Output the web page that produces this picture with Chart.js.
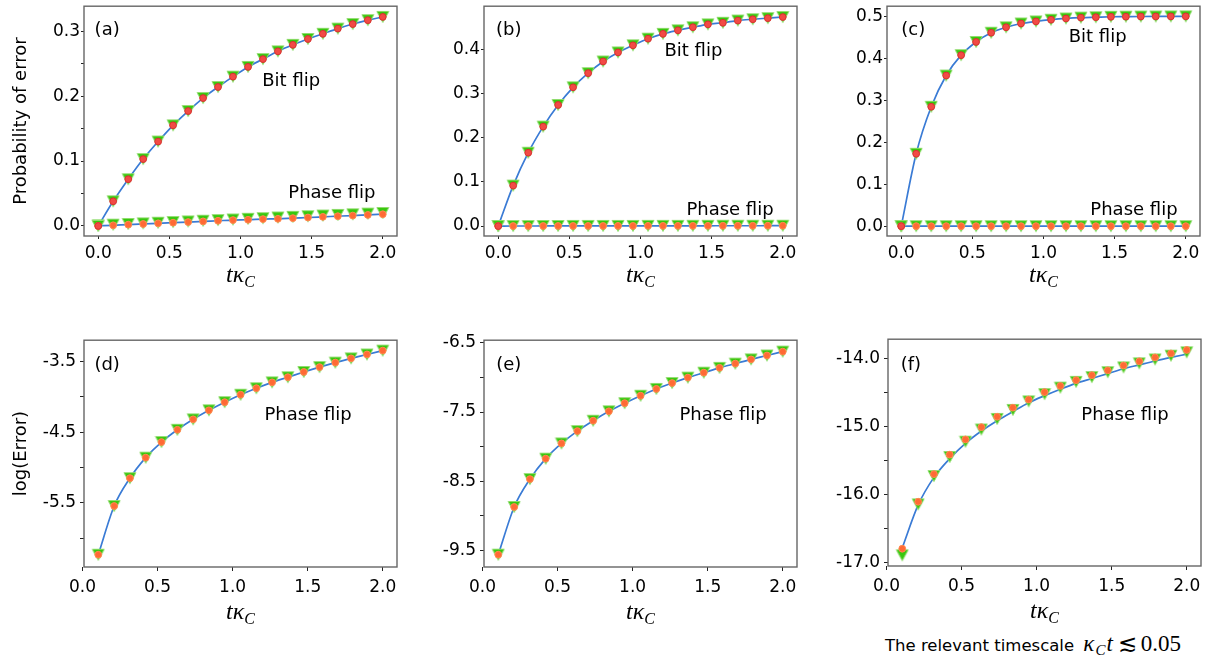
<!DOCTYPE html>
<html>
<head>
<meta charset="utf-8">
<script src="https://cdn.jsdelivr.net/npm/chart.js@4.4.1/dist/chart.umd.min.js"></script>
<style>
  html, body { margin: 0; padding: 0; background: #fff; }
  body { width: 1213px; height: 664px; position: relative; overflow: hidden; }
  canvas { position: absolute; }
  #note { position: absolute; left: 885px; top: 634px; font: 16.5px "DejaVu Sans", sans-serif; color: #000; white-space: nowrap; line-height: 20px; }
  #note .m { font-family: "Liberation Serif", serif; font-size: 23px; margin-left: 4px; }
  #note .m i { margin-right: 1px; }
  #note .rel { margin: 0 4px; }
  #note sub { font-size: 15px; vertical-align: -4px; }
</style>
</head>
<body>
<canvas id="pa"></canvas>
<canvas id="pb"></canvas>
<canvas id="pc"></canvas>
<canvas id="pd"></canvas>
<canvas id="pe"></canvas>
<canvas id="pf"></canvas>
<div id="note">The relevant timescale <span class="m"><i>κ</i><sub><i>C</i></sub><i>t</i><span class="rel">≲</span>0.05</span></div>
<script>
// time grid (t kappa_C)
const tFull = [0, 0.105, 0.211, 0.316, 0.421, 0.526, 0.632, 0.737, 0.842, 0.947,
               1.053, 1.158, 1.263, 1.368, 1.474, 1.579, 1.684, 1.789, 1.895, 2.0];
const tLog = [0.105, 0.211, 0.316, 0.421, 0.526, 0.632, 0.737, 0.842, 0.947,
              1.053, 1.158, 1.263, 1.368, 1.474, 1.579, 1.684, 1.789, 1.895, 2.0];

// probability of error
const bitA = [0, 0.038, 0.072, 0.103, 0.130, 0.155, 0.177, 0.197, 0.214, 0.230,
              0.245, 0.257, 0.269, 0.279, 0.288, 0.296, 0.304, 0.311, 0.317, 0.322];
const phaseA = [0, 0.001, 0.002, 0.003, 0.004, 0.005, 0.006, 0.007, 0.008, 0.009,
                0.0095, 0.0105, 0.011, 0.012, 0.013, 0.014, 0.015, 0.016, 0.017, 0.018];
const phaseATri = [0.001, 0.002, 0.003, 0.004, 0.005, 0.006, 0.007, 0.008, 0.009, 0.010,
                   0.011, 0.012, 0.013, 0.014, 0.015, 0.016, 0.017, 0.018, 0.019, 0.020];
const bitB = [0, 0.0915, 0.166, 0.225, 0.274, 0.314, 0.346, 0.3725, 0.393, 0.409,
              0.424, 0.435, 0.443, 0.450, 0.4565, 0.460, 0.465, 0.468, 0.4705, 0.473];
const phaseB = [0, 0.0001, 0.0001, 0.0002, 0.0002, 0.0003, 0.0003, 0.0003, 0.0004, 0.0004,
                0.0005, 0.0005, 0.0005, 0.0006, 0.0006, 0.0007, 0.0007, 0.0007, 0.0008, 0.0008];
const bitC = [0, 0.1725, 0.2845, 0.359, 0.4075, 0.439, 0.461, 0.474, 0.483, 0.488,
              0.492, 0.495, 0.497, 0.498, 0.499, 0.4993, 0.4996, 0.4998, 0.4999, 0.5];
const phaseC = [0, 0, 0, 0, 0, 0, 0, 0, 0, 0, 0, 0, 0, 0, 0, 0, 0, 0, 0, 0];

// log(Error), phase flip
const logD = [-6.236, -5.546, -5.151, -4.861, -4.640, -4.466, -4.318, -4.190, -4.075, -3.969,
              -3.877, -3.794, -3.721, -3.647, -3.578, -3.514, -3.454, -3.399, -3.344];
const logE = [-9.561, -8.872, -8.469, -8.174, -7.953, -7.775, -7.625, -7.489, -7.372, -7.264,
              -7.166, -7.081, -7.002, -6.931, -6.861, -6.800, -6.739, -6.683, -6.627];
const logF = [-16.799, -16.108, -15.702, -15.416, -15.192, -15.011, -14.858, -14.725, -14.606, -14.496,
              -14.405, -14.320, -14.248, -14.176, -14.105, -14.043, -13.986, -13.928, -13.876];
const logFTri = [-16.895, -16.146, -15.73, -15.45, -15.225, -15.045, -14.89, -14.758, -14.632, -14.525,
                 -14.43, -14.345, -14.275, -14.203, -14.132, -14.072, -14.015, -13.96, -13.91];
const logFLine = [-16.785, -16.155, -15.750, -15.474, -15.249, -15.068, -14.916, -14.782, -14.653, -14.548,
                  -14.453, -14.367, -14.296, -14.224, -14.153, -14.095, -14.038, -13.986, -13.938];

const xTicks = [0, 0.5, 1.0, 1.5, 2.0];

const RED = ['#f24a45', '#d83030'];
const ORANGE = ['#ff6a35', '#ff8a50'];
const BLUE = '#3a7bd5';

function makeTriangle() {
  const c = document.createElement('canvas');
  c.width = 14; c.height = 14;
  const g = c.getContext('2d');
  g.beginPath();
  g.moveTo(1, 1.5); g.lineTo(13, 1.5); g.lineTo(7, 12.5);
  g.closePath();
  g.fillStyle = '#38c70e';
  g.fill();
  g.strokeStyle = '#8fdc6c';
  g.lineWidth = 1;
  g.stroke();
  return c;
}
const triangle = makeTriangle();

function pts(xs, ys) {
  return xs.map((x, i) => ({ x: x, y: ys[i] }));
}

const panels = [
  { id: 'pa', frame: [84, 3, 397, 236], top: true, x: tFull, xMin: -0.1, xMax: 2.1,
    yMin: -0.0155, yMax: 0.3385, yTicks: [0, 0.05, 0.1, 0.15, 0.2, 0.25, 0.3], yLabels: [0, 0.1, 0.2, 0.3],
    yTitle: 'Probability of error',
    series: [{ c: bitA, t: bitA, l: bitA, col: RED }, { c: phaseA, t: phaseATri, l: phaseA, col: ORANGE }],
    notes: [['(a)', 0.074, 0.124], ['Bit flip', 0.662, 0.348], ['Phase flip', 0.792, 0.834]] },
  { id: 'pb', frame: [484, 3, 797, 236], top: true, x: tFull, xMin: -0.1, xMax: 2.1,
    yMin: -0.0225, yMax: 0.4975, yTicks: [0, 0.1, 0.2, 0.3, 0.4], yLabels: [0, 0.1, 0.2, 0.3, 0.4],
    series: [{ c: bitB, t: bitB, l: bitB, col: RED }, { c: phaseB, t: phaseB, l: phaseB, col: ORANGE }],
    notes: [['(b)', 0.079, 0.124], ['Bit flip', 0.669, 0.216], ['Phase flip', 0.786, 0.910]] },
  { id: 'pc', frame: [887, 3, 1200, 236], top: true, x: tFull, xMin: -0.1, xMax: 2.1,
    yMin: -0.0235, yMax: 0.5242, yTicks: [0, 0.1, 0.2, 0.3, 0.4, 0.5], yLabels: [0, 0.1, 0.2, 0.3, 0.4, 0.5],
    series: [{ c: bitC, t: bitC, l: bitC, col: RED }, { c: phaseC, t: phaseC, l: phaseC, col: ORANGE }],
    notes: [['(c)', 0.084, 0.124], ['Bit flip', 0.673, 0.156], ['Phase flip', 0.789, 0.910]] },
  { id: 'pd', frame: [84, 334, 397, 567], top: false, x: tLog, xMin: 0.01, xMax: 2.095,
    yMin: -6.41, yMax: -3.197, yTicks: [-6.0, -5.5, -5.0, -4.5, -4.0, -3.5], yLabels: [-5.5, -4.5, -3.5],
    yTitle: 'log(Error)',
    series: [{ c: logD, t: logD, l: logD, col: ORANGE }],
    notes: [['(d)', 0.074, 0.133], ['Phase flip', 0.716, 0.352]] },
  { id: 'pe', frame: [484, 334, 797, 567], top: false, x: tLog, xMin: 0.01, xMax: 2.095,
    yMin: -9.739, yMax: -6.462, yTicks: [-9.5, -9.0, -8.5, -8.0, -7.5, -7.0, -6.5], yLabels: [-9.5, -8.5, -7.5, -6.5],
    series: [{ c: logE, t: logE, l: logE, col: ORANGE }],
    notes: [['(e)', 0.079, 0.133], ['Phase flip', 0.764, 0.352]] },
  { id: 'pf', frame: [888, 333, 1201, 566], top: false, x: tLog, xMin: 0.01, xMax: 2.095,
    yMin: -17.053, yMax: -13.718, yTicks: [-17.0, -16.5, -16.0, -15.5, -15.0, -14.5, -14.0], yLabels: [-17.0, -16.0, -15.0, -14.0],
    series: [{ c: logF, t: logFTri, l: logFLine, col: ORANGE }],
    notes: [['(f)', 0.073, 0.137], ['Phase flip', 0.757, 0.356]] }
];

function makeChart(p) {
  const [L, T, R, B] = p.frame;
  const yAxisW = 77, padTop = 8, padRight = 12, xAxisH = 60;
  const cv = document.getElementById(p.id);
  cv.width = yAxisW + (R - L) + padRight;
  cv.height = padTop + (B - T) + xAxisH;
  cv.style.left = (L - yAxisW) + 'px';
  cv.style.top = (T - padTop) + 'px';

  const datasets = [];
  p.series.forEach(s => {
    datasets.push({ type: 'scatter', data: pts(p.x, s.c), pointStyle: 'circle', pointRadius: 3.4,
      backgroundColor: s.col[0], borderColor: s.col[1], borderWidth: 1, order: 0, clip: false });
    datasets.push({ type: 'scatter', data: pts(p.x, s.t), pointStyle: triangle, pointRadius: 6,
      backgroundColor: '#38c70e', borderColor: '#8fdc6c', order: 1, clip: false });
    datasets.push({ type: 'line', data: pts(p.x, s.l), borderColor: BLUE, borderWidth: 1.7,
      pointRadius: 0, fill: false, cubicInterpolationMode: 'monotone', order: 2 });
  });

  const decor = {
    id: 'decor',
    afterDraw(chart) {
      const ctx = chart.ctx, a = chart.chartArea;
      const w = a.right - a.left, h = a.bottom - a.top;
      ctx.save();
      ctx.strokeStyle = '#666';
      ctx.lineWidth = 1.4;
      ctx.strokeRect(a.left, a.top, w, h);
      ctx.fillStyle = '#000';
      ctx.font = '18px "DejaVu Sans"';
      ctx.textAlign = 'center';
      ctx.textBaseline = 'alphabetic';
      p.notes.forEach(n => ctx.fillText(n[0], a.left + n[1] * w, a.top + n[2] * h));
      // x axis title: t kappa with subscript C
      const cx = (a.left + a.right) / 2;
      const by = a.bottom + (p.top ? 46 : 52);
      ctx.textAlign = 'left';
      ctx.font = 'italic 24px "Liberation Serif"';
      const w1 = ctx.measureText('tκ').width;
      ctx.font = 'italic 16px "Liberation Serif"';
      const w2 = ctx.measureText('C').width;
      const x0 = cx - (w1 + w2) / 2;
      ctx.font = 'italic 24px "Liberation Serif"';
      ctx.fillText('tκ', x0, by);
      ctx.font = 'italic 16px "Liberation Serif"';
      ctx.fillText('C', x0 + w1, by + 5);
      ctx.restore();
    }
  };

  const tickFont = { family: 'DejaVu Sans', size: 17 };
  new Chart(cv.getContext('2d'), {
    data: { datasets: datasets },
    options: {
      responsive: false,
      animation: false,
      events: [],
      layout: { autoPadding: false, padding: { left: 0, top: padTop, right: padRight, bottom: 0 } },
      plugins: { legend: { display: false }, tooltip: { enabled: false } },
      scales: {
        x: {
          type: 'linear', min: p.xMin, max: p.xMax,
          afterBuildTicks: s => { s.ticks = xTicks.map(v => ({ value: v })); },
          afterFit: s => { s.height = xAxisH; },
          border: { display: false },
          grid: { drawOnChartArea: false, drawTicks: true, tickLength: p.top ? 3 : 4, color: '#222' },
          ticks: { font: tickFont, color: '#000', padding: p.top ? 4 : 6, maxRotation: 0, autoSkip: false,
                   callback: v => Number(v).toFixed(1) }
        },
        y: {
          type: 'linear', min: p.yMin, max: p.yMax,
          afterBuildTicks: s => { s.ticks = p.yTicks.map(v => ({ value: v })); },
          afterFit: s => { s.width = yAxisW; },
          border: { display: false },
          grid: { drawOnChartArea: false, drawTicks: true, tickLength: p.top ? 3 : 4, color: '#222' },
          ticks: { font: tickFont, color: '#000', padding: p.top ? 1 : 4, autoSkip: false,
                   callback: v => p.yLabels.some(u => Math.abs(u - v) < 1e-9) ? Number(v).toFixed(1) : '' },
          title: { display: !!p.yTitle, text: p.yTitle || '', color: '#000',
                   font: { family: 'DejaVu Sans', size: 18 } }
        }
      }
    },
    plugins: [decor]
  });
}

panels.forEach(makeChart);
</script>
</body>
</html>
